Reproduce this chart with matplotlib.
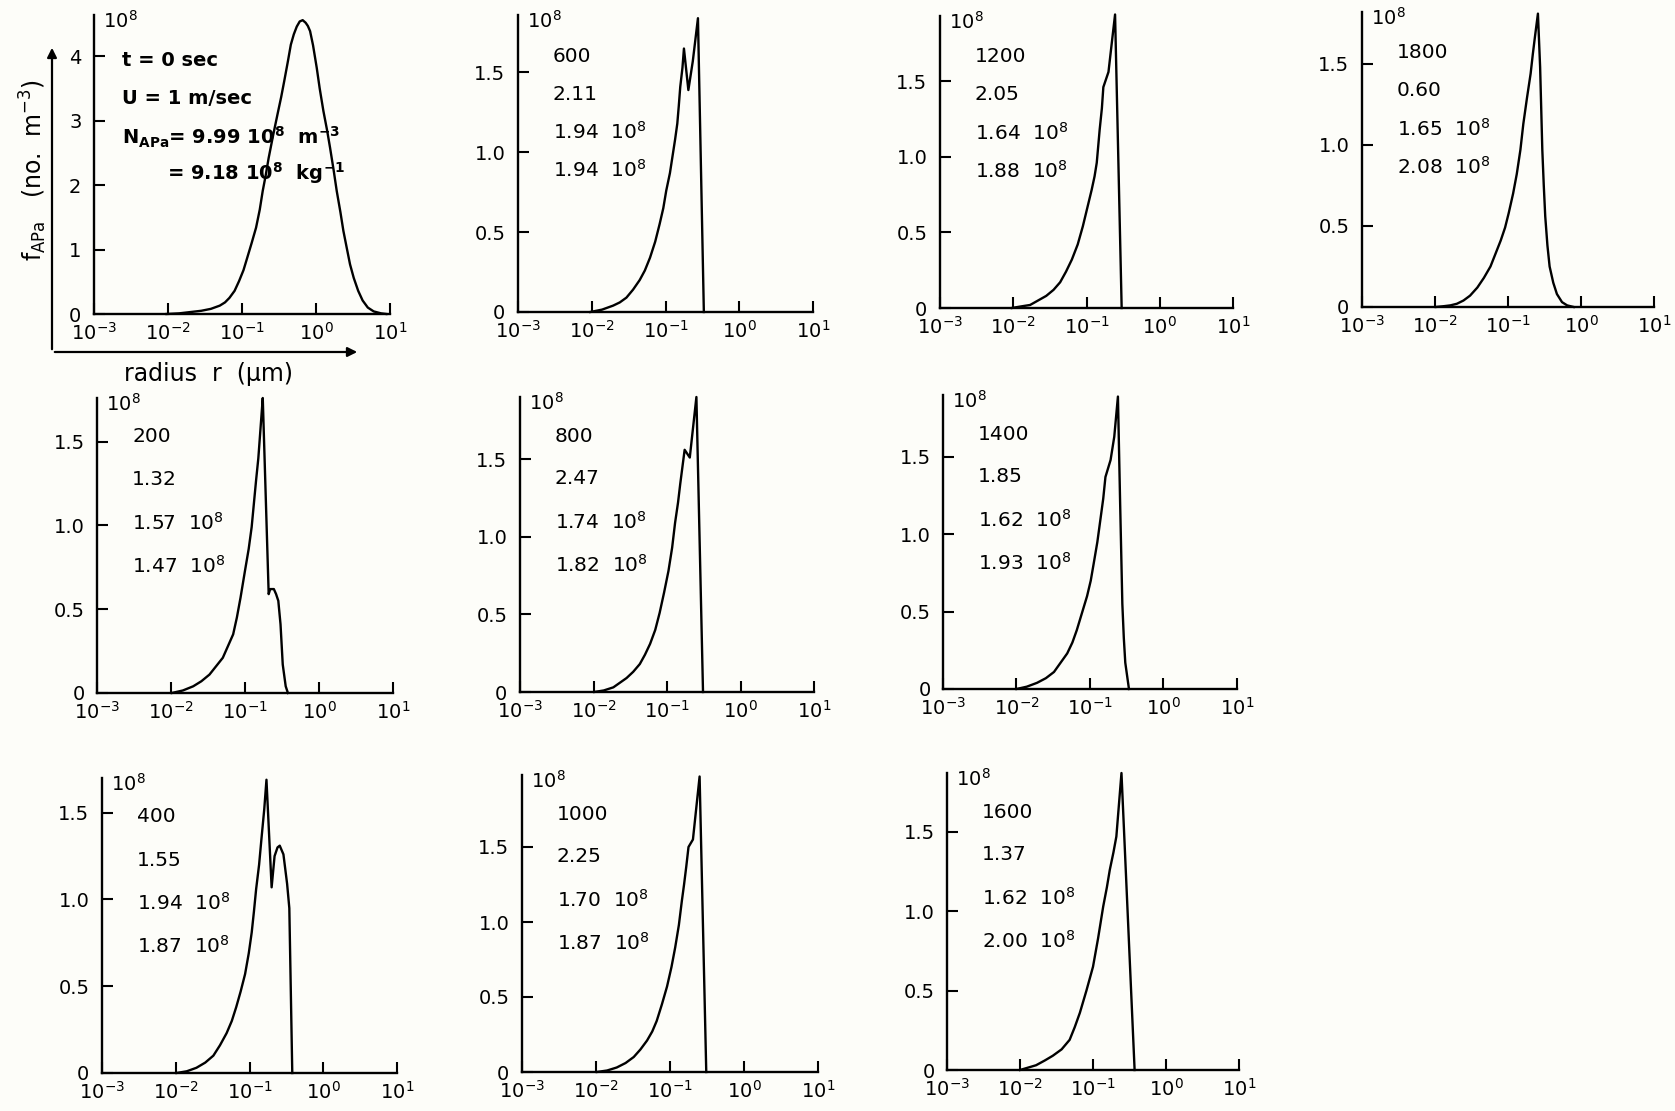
import matplotlib.pyplot as plt
import matplotlib.patches as mpatches
import numpy as np

plt.rcParams['font.family'] = 'DejaVu Sans'
plt.rcParams['mathtext.default'] = 'regular'

W, H = 1675, 1111

# size spectra f_APa (10^8 m^-3) against log10 of radius (um)
logr_0 = [-2.02, -1.85, -1.70, -1.55, -1.42, -1.30, -1.23, -1.17, -1.10, -1.04, -0.98, -0.93, -0.87,
          -0.81, -0.76, -0.72, -0.68, -0.64, -0.58, -0.52, -0.47, -0.43, -0.38, -0.34, -0.30, -0.26,
          -0.22, -0.18, -0.14, -0.11, -0.08, -0.04, 0.01, 0.05, 0.10, 0.15, 0.19, 0.24, 0.28, 0.33,
          0.37, 0.42, 0.46, 0.51, 0.57, 0.63, 0.70, 0.78, 0.88, 0.95]
f_0 = [0, 0.01, 0.03, 0.05, 0.08, 0.13, 0.18, 0.25, 0.36, 0.51, 0.68, 0.87, 1.10,
       1.34, 1.62, 1.91, 2.15, 2.42, 2.77, 3.10, 3.37, 3.61, 3.92, 4.18, 4.34, 4.46,
       4.54, 4.56, 4.52, 4.47, 4.39, 4.17, 3.82, 3.50, 3.15, 2.85, 2.58, 2.22, 1.91, 1.58,
       1.29, 1.00, 0.77, 0.56, 0.36, 0.21, 0.10, 0.04, 0.01, 0]

logr_200 = [-1.99, -1.84, -1.70, -1.59, -1.48, -1.39, -1.30, -1.23, -1.16, -1.11, -1.06, -1.00,
            -0.95, -0.91, -0.88, -0.85, -0.82, -0.80, -0.78, -0.76, -0.68, -0.66, -0.61, -0.58,
            -0.55, -0.52, -0.49, -0.45, -0.42]
f_200 = [0, 0.015, 0.04, 0.07, 0.11, 0.16, 0.21, 0.28, 0.35, 0.45, 0.57, 0.73,
         0.86, 0.99, 1.13, 1.27, 1.40, 1.52, 1.64, 1.76, 0.59, 0.62, 0.62, 0.59,
         0.55, 0.41, 0.17, 0.04, 0]

logr_400 = [-1.99, -1.85, -1.72, -1.60, -1.49, -1.40, -1.31, -1.24, -1.18, -1.12, -1.06, -1.01,
            -0.97, -0.94, -0.91, -0.87, -0.84, -0.80, -0.77, -0.70, -0.66, -0.62, -0.59, -0.54,
            -0.49, -0.46, -0.42]
f_400 = [0, 0.01, 0.03, 0.06, 0.10, 0.16, 0.23, 0.30, 0.38, 0.47, 0.57, 0.69,
         0.81, 0.93, 1.06, 1.20, 1.34, 1.52, 1.69, 1.07, 1.25, 1.30, 1.31, 1.26,
         1.09, 0.95, 0]

logr_600 = [-2.02, -1.86, -1.71, -1.62, -1.53, -1.44, -1.35, -1.28, -1.21, -1.14, -1.08, -1.03,
            -0.99, -0.94, -0.90, -0.87, -0.84, -0.82, -0.80, -0.77, -0.75, -0.69, -0.63, -0.56, -0.48]
f_600 = [0, 0.015, 0.04, 0.06, 0.09, 0.14, 0.20, 0.26, 0.34, 0.44, 0.55, 0.65,
         0.76, 0.87, 0.99, 1.08, 1.18, 1.29, 1.41, 1.53, 1.65, 1.39, 1.57, 1.84, 0]

logr_800 = [-1.99, -1.86, -1.73, -1.64, -1.55, -1.46, -1.37, -1.30, -1.23, -1.16, -1.10, -1.04,
            -0.98, -0.93, -0.89, -0.85, -0.82, -0.79, -0.76, -0.69, -0.60, -0.51]
f_800 = [0, 0.01, 0.03, 0.06, 0.09, 0.13, 0.18, 0.24, 0.31, 0.40, 0.51, 0.64,
         0.78, 0.93, 1.09, 1.22, 1.34, 1.45, 1.56, 1.51, 1.90, 0]

logr_1000 = [-1.99, -1.85, -1.72, -1.60, -1.49, -1.40, -1.31, -1.24, -1.18, -1.11, -1.04, -0.98,
             -0.93, -0.88, -0.84, -0.81, -0.78, -0.75, -0.69, -0.60, -0.51]
f_1000 = [0, 0.01, 0.03, 0.06, 0.10, 0.15, 0.21, 0.27, 0.34, 0.45, 0.57, 0.70,
          0.83, 0.98, 1.14, 1.25, 1.37, 1.50, 1.55, 1.97, 0]

logr_1200 = [-2.02, -1.90, -1.77, -1.66, -1.55, -1.45, -1.36, -1.28, -1.20, -1.12, -1.05, -0.99,
             -0.93, -0.89, -0.86, -0.82, -0.79, -0.77, -0.70, -0.66, -0.61, -0.52]
f_1200 = [0, 0.01, 0.02, 0.05, 0.08, 0.12, 0.17, 0.24, 0.32, 0.42, 0.54, 0.66,
          0.78, 0.87, 0.96, 1.18, 1.32, 1.46, 1.56, 1.73, 1.94, 0]

logr_1400 = [-2.00, -1.86, -1.72, -1.60, -1.49, -1.40, -1.31, -1.24, -1.18, -1.11, -1.04, -0.99,
             -0.95, -0.90, -0.86, -0.82, -0.79, -0.72, -0.67, -0.62, -0.59, -0.56, -0.54, -0.52, -0.47]
f_1400 = [0, 0.015, 0.04, 0.07, 0.11, 0.17, 0.23, 0.30, 0.38, 0.49, 0.60, 0.70,
          0.81, 0.95, 1.09, 1.23, 1.37, 1.48, 1.63, 1.89, 1.20, 0.55, 0.33, 0.17, 0]

logr_1600 = [-2.00, -1.89, -1.78, -1.66, -1.55, -1.43, -1.32, -1.25, -1.18, -1.09, -1.00, -0.93,
             -0.86, -0.81, -0.77, -0.72, -0.68, -0.61, -0.43]
f_1600 = [0, 0.015, 0.03, 0.06, 0.09, 0.13, 0.19, 0.27, 0.36, 0.50, 0.65, 0.83,
          1.03, 1.15, 1.26, 1.37, 1.47, 1.87, 0]

logr_1800 = [-1.99, -1.88, -1.79, -1.70, -1.61, -1.52, -1.42, -1.33, -1.24, -1.17, -1.10, -1.04,
             -0.99, -0.93, -0.88, -0.83, -0.79, -0.74, -0.69, -0.66, -0.63, -0.59, -0.56, -0.53,
             -0.51, -0.49, -0.46, -0.43, -0.38, -0.33, -0.26, -0.19, -0.10]
f_1800 = [0, 0.005, 0.01, 0.02, 0.04, 0.07, 0.12, 0.18, 0.25, 0.33, 0.41, 0.49,
          0.58, 0.70, 0.82, 0.97, 1.13, 1.29, 1.44, 1.56, 1.67, 1.81, 1.48, 0.97,
          0.75, 0.56, 0.38, 0.25, 0.15, 0.08, 0.03, 0.01, 0]

# panel annotations (time, second value, N per m3, N per kg)
times = [600, 1200, 1800, 200, 800, 1400, 400, 1000, 1600]
second_vals = ['2.11', '2.05', '0.60', '1.32', '2.47', '1.85', '1.55', '2.25', '1.37']
n_per_m3 = ['1.94', '1.64', '1.65', '1.57', '1.74', '1.62', '1.94', '1.70', '1.62']
n_per_kg = ['1.94', '1.88', '2.08', '1.47', '1.82', '1.93', '1.87', '1.87', '2.00']

xtick_vals = [1e-3, 1e-2, 1e-1, 1e0, 1e1]
xtick_labels = ['$10^{-3}$', '$10^{-2}$', '$10^{-1}$', '$10^{0}$', '$10^{1}$']

curves = {
    0: (logr_0, f_0), 200: (logr_200, f_200), 400: (logr_400, f_400),
    600: (logr_600, f_600), 800: (logr_800, f_800), 1000: (logr_1000, f_1000),
    1200: (logr_1200, f_1200), 1400: (logr_1400, f_1400), 1600: (logr_1600, f_1600),
    1800: (logr_1800, f_1800),
}

# axes geometry in pixels: x of y-axis, y of x-axis, x of 10^1, y of axis top, ymax
geom = {
    0: (94, 314, 390, 15, 4.64),
    600: (518, 312, 813, 15, 1.86),
    1200: (940, 308, 1233, 16, 1.93),
    1800: (1362, 307, 1654, 12, 1.82),
    200: (97, 693, 393, 398, 1.76),
    800: (520, 692, 814, 397, 1.90),
    1400: (943, 689, 1237, 395, 1.90),
    400: (102, 1073, 397, 778, 1.70),
    1000: (522, 1072, 818, 775, 1.98),
    1600: (947, 1070, 1239, 773, 1.87),
}

fig = plt.figure(figsize=(W / 100, H / 100), dpi=100)
fig.patch.set_facecolor('#fdfdf9')


def make_panel(t):
    x0, y0, x1, top, ymax = geom[t]
    ax = fig.add_axes([x0 / W, 1 - y0 / H, (x1 - x0) / W, (y0 - top) / H])
    ax.set_facecolor('none')
    ax.set_xscale('log')
    ax.set_xlim(1e-3, 1e1)
    ax.set_ylim(0, ymax)
    ax.spines['top'].set_visible(False)
    ax.spines['right'].set_visible(False)
    ax.spines['left'].set_linewidth(1.7)
    ax.spines['bottom'].set_linewidth(1.7)
    ax.set_xticks(xtick_vals)
    ax.set_xticklabels(xtick_labels)
    ax.xaxis.set_minor_locator(plt.NullLocator())
    if t == 0:
        ax.set_yticks([0, 1, 2, 3, 4])
        ax.set_yticklabels(['0', '1', '2', '3', '4'])
    else:
        ax.set_yticks([0, 0.5, 1.0, 1.5])
        ax.set_yticklabels(['0', '0.5', '1.0', '1.5'])
    ax.tick_params(direction='in', length=8, width=1.5, labelsize=14)
    ax.tick_params(axis='x', pad=6)
    ax.tick_params(axis='y', pad=9)
    logr, f = curves[t]
    ax.plot(10 ** np.array(logr), f, color='black', lw=1.7, clip_on=False)
    ax.annotate('$10^8$', xy=(0, 1), xycoords='axes fraction', xytext=(9, 5),
                textcoords='offset pixels', ha='left', va='top', fontsize=14)
    return ax


# first panel: initial spectrum with full labelling
ax0 = make_panel(0)
info0 = [('t = 0 sec', 28, 45), ('U = 1 m/sec', 28, 83),
         ('N$_{APa}$= 9.99 10$^8$  m$^{-3}$', 28, 122),
         ('= 9.18 10$^8$  kg$^{-1}$', 73, 158)]
for txt, dx, dy in info0:
    ax0.annotate(txt, xy=(0, 1), xycoords='axes fraction', xytext=(dx, -dy),
                 textcoords='offset pixels', ha='left', va='center', fontsize=14,
                 fontweight='bold')

# outer arrows and axis titles of the first panel
corner = (52 / W, 1 - 352 / H)
fig.add_artist(mpatches.FancyArrowPatch(corner, (52 / W, 1 - 45 / H), transform=fig.transFigure,
                                        arrowstyle='-|>', mutation_scale=14, lw=1.6, color='black'))
fig.add_artist(mpatches.FancyArrowPatch(corner, (360 / W, 1 - 352 / H), transform=fig.transFigure,
                                        arrowstyle='-|>', mutation_scale=14, lw=1.6, color='black'))
fig.text(208 / W, 1 - 374 / H, 'radius  r  (μm)', ha='center', va='center', fontsize=17)
fig.text(33 / W, 1 - 170 / H, 'f$_{APa}$   (no.  m$^{-3}$)', ha='center', va='center',
         fontsize=17, rotation=90)

for i, t in enumerate(times):
    ax = make_panel(t)
    row = 0 if geom[t][3] < 100 else 1
    first = 41 if row == 0 else 39
    step = 38 if row == 0 else 43
    lines = [str(t), second_vals[i], n_per_m3[i] + '  10$^8$', n_per_kg[i] + '  10$^8$']
    for k, txt in enumerate(lines):
        ax.annotate(txt, xy=(0, 1), xycoords='axes fraction', xytext=(35, -(first + k * step)),
                    textcoords='offset pixels', ha='left', va='center', fontsize=14.5)

fig.savefig('out.png', dpi=100, facecolor=fig.get_facecolor())
